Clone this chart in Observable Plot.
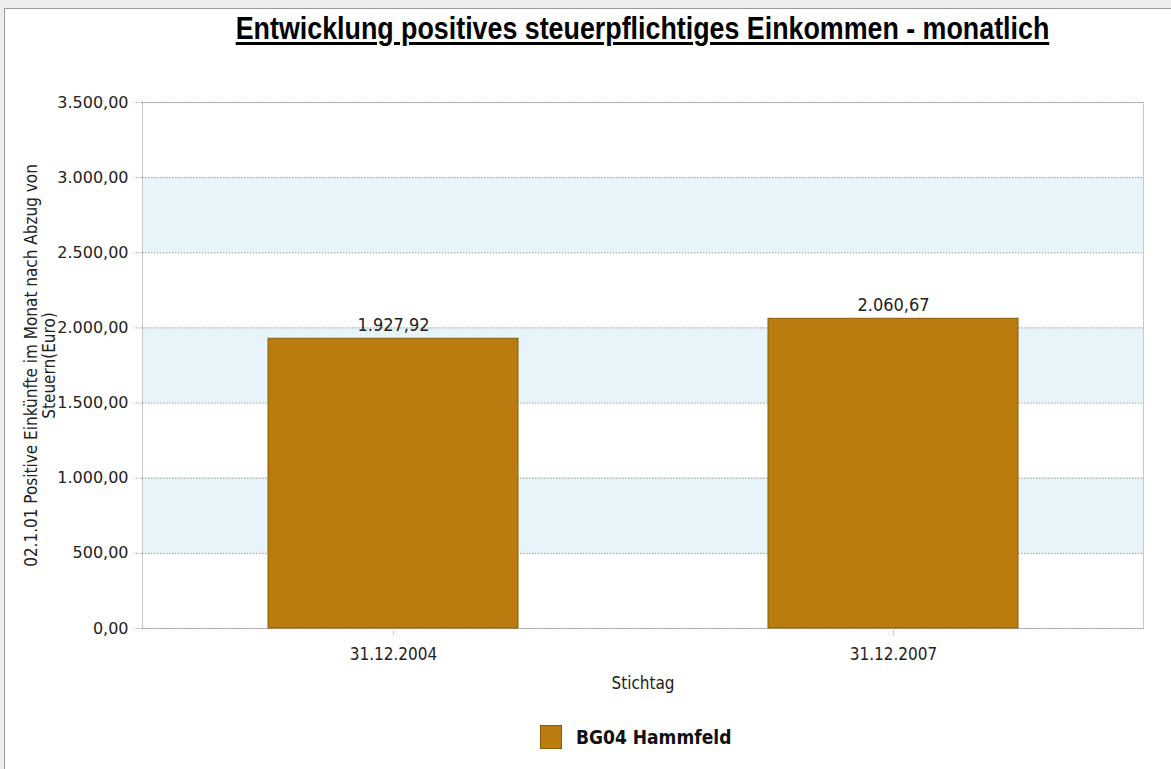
<!DOCTYPE html>
<html>
<head>
<meta charset="utf-8">
<script src="https://cdn.jsdelivr.net/npm/d3@7"></script>
<script src="https://cdn.jsdelivr.net/npm/@observablehq/plot@0.6"></script>
<style>
  html, body { margin: 0; padding: 0; background: #eeeeee; }
  #page { position: relative; width: 1171px; height: 769px; overflow: hidden; }
  #panel { position: absolute; left: 4px; top: 8px; width: 1170px; height: 770px; background: #fff;
           border-left: 1px solid #9a9a9a; border-top: 1px solid #9a9a9a; }
  #title { position: absolute; left: 142px; width: 1001px; top: 11px; text-align: center;
           font-family: "Liberation Sans", Arial, sans-serif; font-weight: bold;
           font-size: 31px; color: #000; text-decoration: underline; text-underline-offset: 3px;
           transform: scaleX(0.865); transform-origin: 50% 50%; white-space: nowrap; }
  #chart { position: absolute; left: 0; top: 62px; }
  #legend { position: absolute; left: 540px; top: 725px; display: flex; align-items: center; gap: 14px;
            font-family: "DejaVu Sans Condensed", "DejaVu Sans", sans-serif; font-weight: bold; font-size: 19px; color: #111; }
  #legend .sw { width: 22px; height: 24px; background: #bb7c0f; box-sizing: border-box; border: 1px solid #8a5c05; }
</style>
</head>
<body>
<div id="page">
  <div id="panel"></div>
  <div id="title">Entwicklung positives steuerpflichtiges Einkommen - monatlich</div>
  <div id="chart"></div>
  <div id="legend"><div class="sw"></div><span>BG04 Hammfeld</span></div>
</div>
<script>
// ---- data ----
const dates = ["31.12.2004", "31.12.2007"];
const values = [1927.92, 2060.67];
const seriesName = "BG04 Hammfeld";
const yTicks = [0, 500, 1000, 1500, 2000, 2500, 3000, 3500];
const bandStarts = [500, 1500, 2500];
const bandWidth = 500;
const yTitle = "02.1.01 Positive Einkünfte im Monat nach Abzug von\nSteuern(Euro)";
const xTitle = "Stichtag";

const de = d3.formatLocale({decimal: ",", thousands: ".", grouping: [3], currency: ["", " €"]});
const fmt = de.format(",.2f");
const data = dates.map((d, i) => ({date: d, value: values[i], series: seriesName}));
const bands = bandStarts.map(s => ({y1: s, y2: s + bandWidth}));

const condensed = "DejaVu Sans Condensed, DejaVu Sans, sans-serif";

const chart = Plot.plot({
  width: 1171,
  height: 650,
  marginLeft: 142,
  marginRight: 28,
  marginTop: 40,
  marginBottom: 84,
  style: {background: "transparent", color: "#222", fontFamily: condensed},
  x: {domain: dates, paddingInner: 0.5, paddingOuter: 0.25, label: null},
  y: {domain: [0, 3500], label: null},
  marks: [
    Plot.rect(bands, {y1: "y1", y2: "y2", fill: "#e7f5fa"}),
    Plot.frame({stroke: "#c9c9c9"}),
    Plot.ruleY(yTicks, {stroke: "#9a9a9a", strokeDasharray: "1.5,1.5", strokeWidth: 1}),
    Plot.barY(data, {x: "date", y: "value", fill: "#bb7c0f", stroke: "#8a5c05", strokeWidth: 1}),
    Plot.text(data, {x: "date", y: "value", text: d => fmt(d.value), dy: -14, fontSize: 18, fill: "#222", fontFamily: condensed}),
    Plot.axisY({ticks: yTicks, tickFormat: fmt, tickSize: 9, tickPadding: 5, stroke: "#999", strokeDasharray: "1,1.5",
                fontSize: 16, fontFamily: "DejaVu Sans, sans-serif", fill: "#222", label: null}),
    Plot.axisX({tickSize: 8, tickPadding: 11, stroke: "#999", strokeDasharray: "1,1.5", fontSize: 17, fontFamily: condensed,
                fill: "#222", label: null}),
    Plot.text([xTitle], {frameAnchor: "bottom", dy: 60, fontSize: 17, fontFamily: condensed, fill: "#222"}),
    Plot.text([yTitle], {frameAnchor: "left", rotate: -90, dx: -102, textAnchor: "middle", lineAnchor: "middle",
                         lineHeight: 1.05, fontSize: 17, fontFamily: condensed, fill: "#222"})
  ]
});
document.getElementById("chart").appendChild(chart);
</script>
</body>
</html>
